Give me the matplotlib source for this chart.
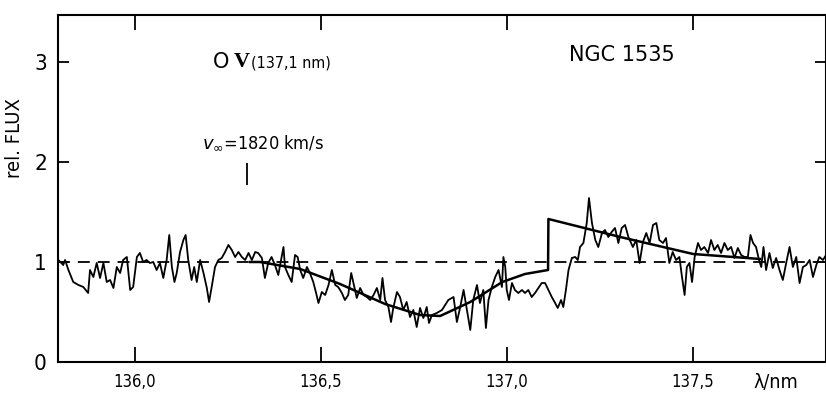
import matplotlib
matplotlib.use("Agg")
import matplotlib.pyplot as plt
from matplotlib import font_manager

wave = [135.794, 135.807, 135.812, 135.821, 135.834, 135.848, 135.861, 135.874, 135.879, 135.888,
        135.897, 135.906, 135.915, 135.924, 135.933, 135.942, 135.951, 135.960, 135.968, 135.978,
        135.987, 135.995, 136.005, 136.013, 136.022, 136.031, 136.040, 136.049, 136.058, 136.067,
        136.076, 136.085, 136.092, 136.099, 136.106, 136.112, 136.121, 136.130, 136.136, 136.143,
        136.152, 136.159, 136.166, 136.175, 136.184, 136.193, 136.199, 136.206, 136.215, 136.224,
        136.233, 136.242, 136.251, 136.260, 136.269, 136.278, 136.287, 136.296, 136.305, 136.314,
        136.323, 136.331, 136.341, 136.349, 136.358, 136.367, 136.376, 136.385, 136.394, 136.399,
        136.403, 136.412, 136.421, 136.430, 136.437, 136.444, 136.452, 136.462, 136.470, 136.479,
        136.486, 136.493, 136.502, 136.511, 136.520, 136.529, 136.538, 136.546, 136.556, 136.564,
        136.573, 136.581, 136.587, 136.596, 136.605, 136.614, 136.623, 136.632, 136.641, 136.650,
        136.659, 136.665, 136.672, 136.681, 136.688, 136.694, 136.704, 136.712, 136.721, 136.730,
        136.739, 136.748, 136.757, 136.766, 136.775, 136.784, 136.790, 136.798, 136.811, 136.825,
        136.842, 136.856, 136.865, 136.874, 136.883, 136.892, 136.901, 136.909, 136.919, 136.927,
        136.936, 136.943, 136.950, 136.959, 136.968, 136.977, 136.986, 136.990, 136.995, 136.999,
        137.005, 137.013, 137.021, 137.030, 137.040, 137.048, 137.057, 137.066, 137.075, 137.084,
        137.093, 137.102, 137.111, 137.120, 137.129, 137.136, 137.145, 137.151, 137.158, 137.165,
        137.174, 137.183, 137.190, 137.196, 137.205, 137.214, 137.220, 137.228, 137.237, 137.245,
        137.255, 137.263, 137.272, 137.281, 137.290, 137.299, 137.308, 137.317, 137.326, 137.338,
        137.347, 137.356, 137.365, 137.374, 137.383, 137.392, 137.401, 137.409, 137.419, 137.427,
        137.436, 137.445, 137.454, 137.463, 137.470, 137.477, 137.483, 137.490, 137.497, 137.504,
        137.513, 137.521, 137.530, 137.540, 137.548, 137.557, 137.566, 137.575, 137.584, 137.593,
        137.602, 137.611, 137.620, 137.629, 137.638, 137.647, 137.654, 137.661, 137.669, 137.677,
        137.683, 137.689, 137.696, 137.705, 137.714, 137.723, 137.732, 137.741, 137.750, 137.759,
        137.768, 137.777, 137.786, 137.795, 137.804, 137.813, 137.822, 137.831, 137.839, 137.849,
        137.857]
flux = [1.02, 0.97, 1.02, 0.92, 0.80, 0.77, 0.75, 0.69, 0.92, 0.85,
        0.99, 0.84, 0.99, 0.80, 0.82, 0.74, 0.95, 0.89, 1.02, 1.05,
        0.72, 0.75, 1.05, 1.09, 1.00, 1.02, 0.99, 1.00, 0.92, 0.99,
        0.84, 1.02, 1.27, 0.95, 0.80, 0.89, 1.10, 1.22, 1.27, 1.02,
        0.82, 0.95, 0.80, 1.02, 0.89, 0.74, 0.60, 0.75, 0.95, 1.02,
        1.04, 1.10, 1.17, 1.12, 1.05, 1.10, 1.05, 1.02, 1.09, 1.02,
        1.10, 1.09, 1.04, 0.84, 0.99, 1.05, 0.97, 0.87, 1.05, 1.15,
        0.95, 0.87, 0.80, 1.07, 1.05, 0.92, 0.84, 0.95, 0.89, 0.80,
        0.70, 0.59, 0.70, 0.67, 0.77, 0.92, 0.77, 0.75, 0.69, 0.62,
        0.67, 0.89, 0.79, 0.64, 0.74, 0.67, 0.65, 0.62, 0.67, 0.74,
        0.62, 0.84, 0.62, 0.55, 0.40, 0.54, 0.70, 0.65, 0.52, 0.60,
        0.45, 0.52, 0.35, 0.54, 0.44, 0.55, 0.39, 0.47, 0.49, 0.52,
        0.62, 0.65, 0.40, 0.55, 0.72, 0.52, 0.32, 0.62, 0.77, 0.59,
        0.72, 0.34, 0.62, 0.75, 0.85, 0.92, 0.75, 1.05, 0.95, 0.72,
        0.62, 0.79, 0.72, 0.69, 0.72, 0.69, 0.72, 0.65, 0.69, 0.74,
        0.79, 0.79, 0.72, 0.65, 0.59, 0.54, 0.62, 0.55, 0.72, 0.92,
        1.04, 1.05, 1.02, 1.15, 1.19, 1.39, 1.64, 1.39, 1.22, 1.15,
        1.29, 1.32, 1.25, 1.30, 1.34, 1.19, 1.34, 1.37, 1.25, 1.15,
        1.22, 0.99, 1.20, 1.29, 1.19, 1.37, 1.39, 1.22, 1.19, 1.24,
        0.99, 1.10, 1.02, 1.05, 0.85, 0.67, 0.95, 0.99, 0.80, 1.05,
        1.19, 1.12, 1.15, 1.09, 1.22, 1.12, 1.17, 1.09, 1.19, 1.12,
        1.15, 1.04, 1.14, 1.07, 1.05, 1.05, 1.27, 1.19, 1.15, 1.02,
        0.95, 1.15, 0.92, 1.09, 0.94, 1.04, 0.92, 0.82, 0.99, 1.15,
        0.95, 1.05, 0.79, 0.95, 0.97, 1.02, 0.85, 0.97, 1.05, 1.02,
        1.07]

# fitted P Cygni profile
fit_wave = [136.309, 136.336, 136.444, 136.551, 136.672, 136.766, 136.820, 136.901,
            136.987, 137.048, 137.110, 137.111, 137.304, 137.500, 137.680]
fit_flux = [1.00, 1.00, 0.93, 0.78, 0.58, 0.47, 0.46, 0.60,
            0.80, 0.88, 0.92, 1.43, 1.25, 1.08, 1.03]

continuum = 1.0
v_inf_wave = 136.30

xticks = [136.0, 136.5, 137.0, 137.5]
xtick_labels = ["136,0", "136,5", "137,0", "137,5"]
yticks = [0, 1, 2, 3]

names = {f.name for f in font_manager.fontManager.ttflist}
narrow = "Liberation Sans Narrow" if "Liberation Sans Narrow" in names else "DejaVu Sans"
serif = "Liberation Serif" if "Liberation Serif" in names else "DejaVu Serif"
small = dict(fontfamily=narrow, fontstretch="condensed")

fig = plt.figure(figsize=(8.26, 4.0), dpi=100)
ax = fig.add_axes([58 / 826, 38 / 400, 768 / 826, 347 / 400])

ax.plot(wave, flux, color="black", lw=1.3)
ax.plot(fit_wave, fit_flux, color="black", lw=1.8)
ax.axhline(continuum, color="black", lw=1.3, dashes=(6.6, 4.4))
ax.vlines(v_inf_wave, 1.77, 1.99, color="black", lw=1.3)

ax.set_xlim(135.793, 137.857)
ax.set_ylim(0, 3.47)
ax.set_xticks(xticks)
ax.set_xticklabels(xtick_labels, fontsize=12, **small)
ax.set_yticks(yticks)
ax.set_yticklabels([str(t) for t in yticks], fontsize=16, **small)
ax.tick_params(axis="x", direction="in", top=True, length=11, width=1.3, pad=8)
ax.tick_params(axis="y", direction="in", right=True, length=8, width=1.3, pad=8)
for s in ax.spines.values():
    s.set_linewidth(1.5)

ax.text(136.210, 3.0, "O", fontsize=15, ha="left", va="center")
ax.text(136.266, 3.0, "V", fontsize=16, fontfamily=serif, fontweight="bold",
        ha="left", va="center")
ax.text(136.312, 2.99, "(137,1 nm)", fontsize=11.5, ha="left", va="center", **small)
ax.text(137.309, 3.07, "NGC 1535", fontsize=15, ha="center", va="center")
ax.text(136.180, 2.19, r"$v_\infty$=1820 km/s", fontsize=13, ha="left", va="center", **small)
ax.text(137.661, -0.20, "λ/nm", fontsize=14, ha="left", va="center", **small)
fig.text(15 / 826, 1 - 138 / 400, "rel. FLUX", rotation=90, fontsize=14.5,
         ha="center", va="center", **small)

fig.savefig("out.png", dpi=100)
